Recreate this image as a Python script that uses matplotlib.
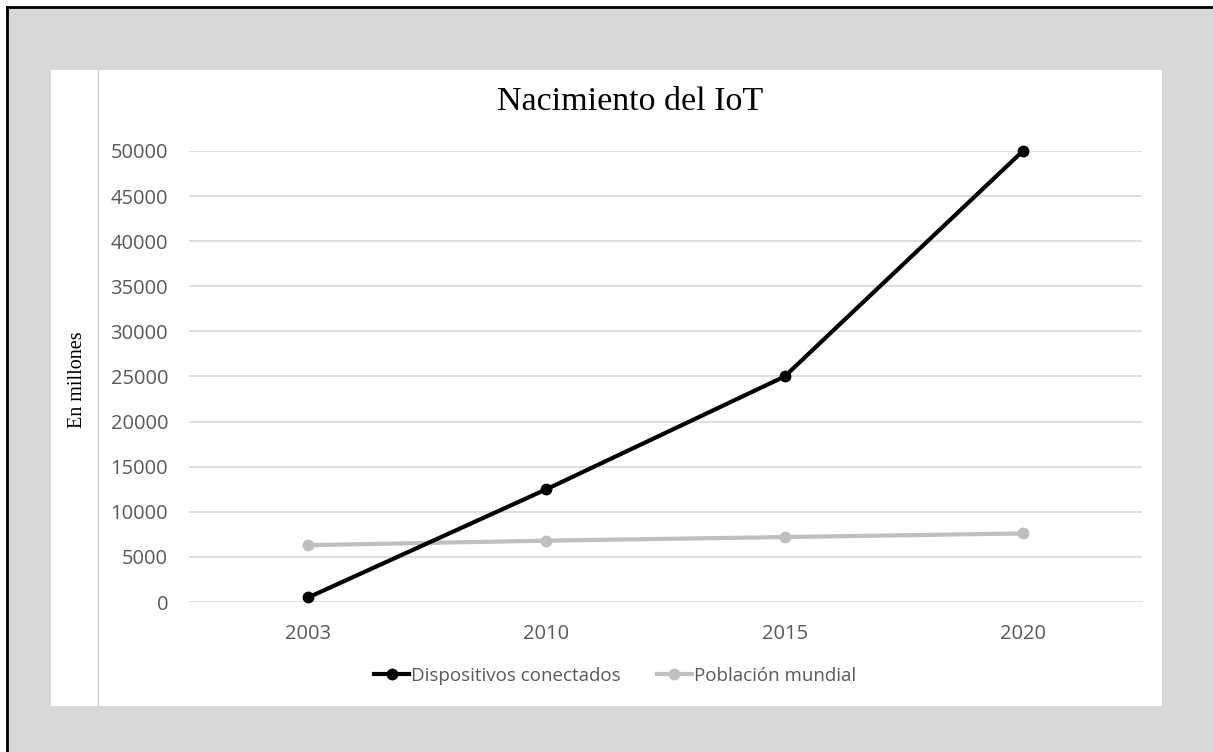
import matplotlib
matplotlib.use("Agg")
import matplotlib.pyplot as plt
from matplotlib.patches import Rectangle
from matplotlib.lines import Line2D

years = ["2003", "2010", "2015", "2020"]
dispositivos = [500, 12500, 25000, 50000]
poblacion = [6300, 6800, 7200, 7600]
yticks = [0, 5000, 10000, 15000, 20000, 25000, 30000, 35000, 40000, 45000, 50000]

W, H = 1213, 752
fig = plt.figure(figsize=(W / 100, H / 100), dpi=100, facecolor="white")

def px(x0, y0, x1, y1):
    return (x0 / W, 1 - y1 / H, (x1 - x0) / W, (y1 - y0) / H)

# gray background
x, y, w, h = px(7, 7, W, H)
fig.patches.append(Rectangle((x, y), w, h, transform=fig.transFigure,
                             facecolor="#d9d9d9", edgecolor="none", zorder=0))
# black border top/left
fig.add_artist(Line2D([7 / W, 7 / W], [0, 1 - 7 / H], transform=fig.transFigure,
                      color="black", lw=2.0, zorder=1))
fig.add_artist(Line2D([7 / W, 1], [1 - 7 / H, 1 - 7 / H], transform=fig.transFigure,
                      color="black", lw=2.0, zorder=1))
# white panel
x, y, w, h = px(51, 70, 1162, 706)
fig.patches.append(Rectangle((x, y), w, h, transform=fig.transFigure,
                             facecolor="white", edgecolor="none", zorder=1))
# thin vertical line
fig.add_artist(Line2D([98 / W, 98 / W], [1 - 706 / H, 1 - 70 / H], transform=fig.transFigure,
                      color="#d0d0d0", lw=1.0, zorder=2))

ax = fig.add_axes(px(189, 151, 1142, 602))
ax.set_facecolor("none")
ax.set_zorder(3)
xs = list(range(len(years)))
ax.plot(xs, poblacion, color="#bfbfbf", lw=3.0, marker="o", ms=7.5, clip_on=False,
        label="Población mundial", zorder=3)
ax.plot(xs, dispositivos, color="black", lw=3.0, marker="o", ms=7.5, clip_on=False,
        label="Dispositivos conectados", zorder=4)
ax.set_xlim(-0.5, 3.5)
ax.set_ylim(0, 50000)
ax.set_yticks(yticks)
ax.set_yticklabels([str(v) for v in yticks])
ax.set_xticks(xs)
ax.set_xticklabels(years)
ax.grid(axis="y", color="#d9d9d9", lw=1.2)
ax.set_axisbelow(True)
for s in ax.spines.values():
    s.set_visible(False)
ax.tick_params(axis="both", length=0, labelsize=14.5, labelcolor="#595959")
ax.tick_params(axis="y", pad=15)
ax.tick_params(axis="x", pad=16)
for lab in ax.get_xticklabels() + ax.get_yticklabels():
    lab.set_family("Open Sans")

fig.text(630 / W, 1 - 102 / H, "Nacimiento del IoT", family="Liberation Serif",
         fontsize=24.5, ha="center", va="center", color="black")
fig.text(78 / W, 1 - 380 / H, "En millones", family="Liberation Serif",
         fontsize=14.5, rotation=90, ha="center", va="center", color="black")

h1 = Line2D([], [], color="black", lw=3.0, marker="o", ms=7.5)
h2 = Line2D([], [], color="#bfbfbf", lw=3.0, marker="o", ms=7.5)
leg = fig.legend([h1, h2], ["Dispositivos conectados", "Población mundial"],
                 loc="center", bbox_to_anchor=(615 / W, 1 - 676 / H), ncol=2,
                 frameon=False, handlelength=1.9, handletextpad=0.1, columnspacing=1.9,
                 prop={"family": "Open Sans", "size": 13.5})
for t in leg.get_texts():
    t.set_color("#595959")

fig.savefig("out.png", dpi=100, facecolor="white")
